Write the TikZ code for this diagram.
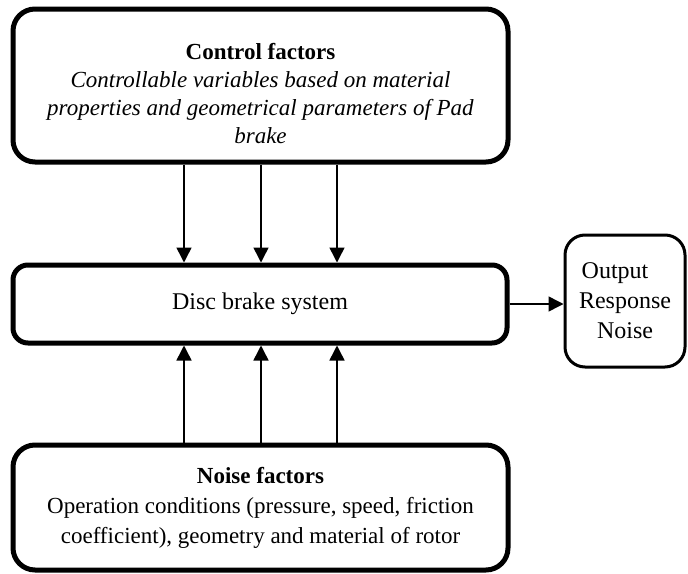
\documentclass[tikz,border=0pt]{standalone}
\usepackage{fontspec}
\setmainfont{Liberation Serif}
\usetikzlibrary{arrows.meta}

\tikzset{
  factorbox/.style={draw, line width=5pt, rounded corners=22pt, inner sep=0pt,
    minimum width=495pt, align=center, font=\fontsize{23}{28}\selectfont},
  outbox/.style={draw, line width=3pt, rounded corners=20pt, inner sep=0pt,
    minimum width=120pt, minimum height=132pt, align=center,
    font=\fontsize{24}{30}\selectfont}
}

\begin{document}
\begin{tikzpicture}[x=1pt,y=-1pt]
	% Rahmen festlegen
	\useasboundingbox (0,0) rectangle (688,573);
	
	% Kaesten zeichnen
	\node[factorbox, minimum height=153pt] (control) at (260.5,85.5)
		{\rule{0pt}{32pt}\textbf{Control factors}\\
		 \textit{Controllable variables based on material}\\
		 \textit{properties and geometrical parameters of Pad}\\
		 \textit{brake}};
	\node[factorbox, minimum width=494pt, minimum height=78pt, rounded corners=15pt,
		font=\fontsize{24}{30}\selectfont] (system) at (260,304) {Disc brake system};
	\node[factorbox, minimum height=125pt, font=\fontsize{23}{30}\selectfont] (noise) at (260.5,507.5)
		{\textbf{Noise factors}\\
		 Operation conditions (pressure, speed, friction\\
		 coefficient), geometry and material of rotor};
	\node[outbox] (output) at (625,301) {\hspace*{-20pt}Output\\Response\\Noise};
	
	% Pfeile zeichnen
	\begin{scope}[>={Triangle[width=15pt,length=15pt]}, line width=1.5pt]
		\foreach \x in {184,261,337} {
			\draw[->] (control.south -| \x,0) to (system.north -| \x,0);
			\draw[->] (noise.north -| \x,0) to (system.south -| \x,0);
		}
		\draw[->] (system.east) to (system.east -| output.west);
	\end{scope}
\end{tikzpicture}
\end{document}
